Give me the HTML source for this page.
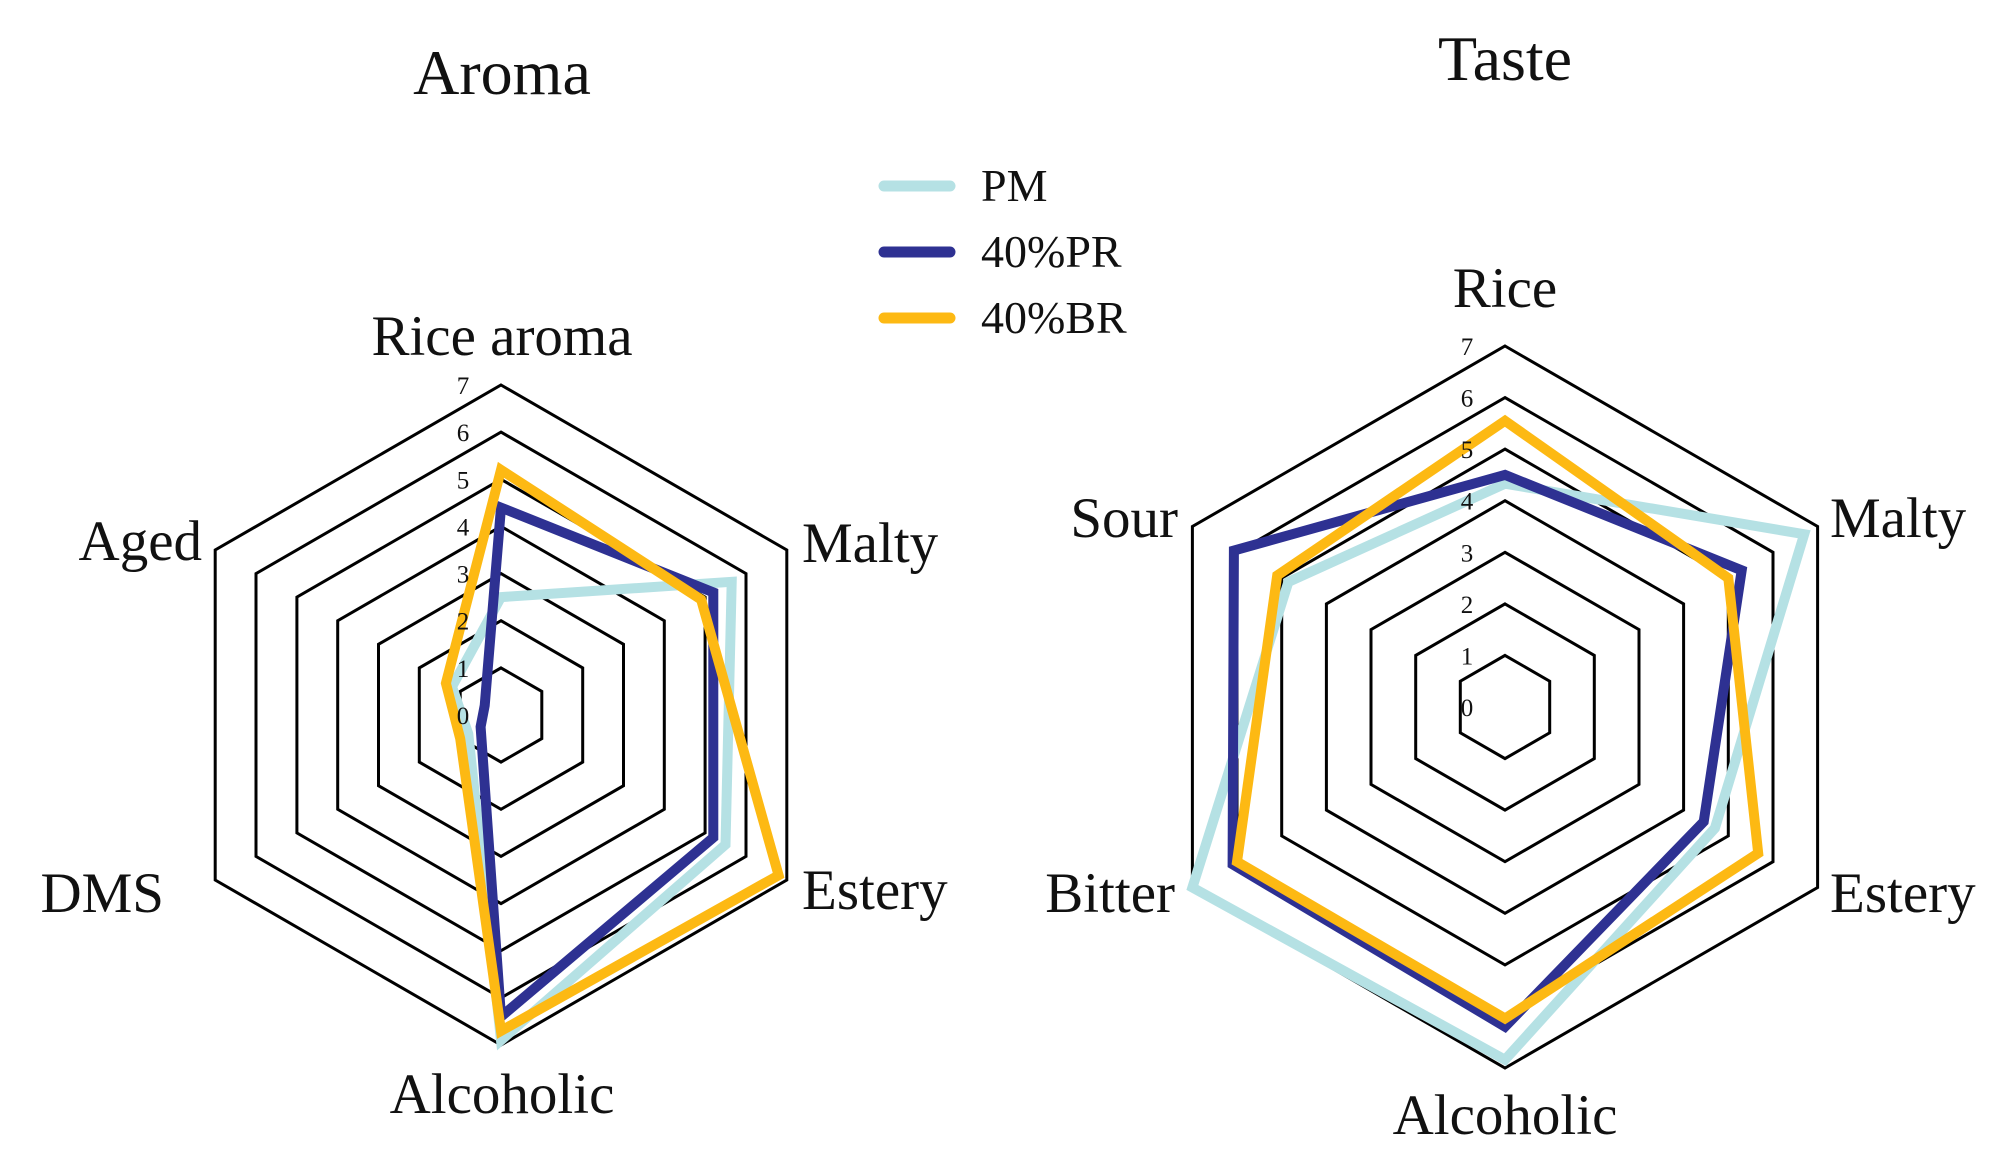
<!DOCTYPE html>
<html><head><meta charset="utf-8"><style>
html,body{margin:0;padding:0;background:#fff;}
svg{display:block;}
text{font-family:"Liberation Serif",serif;fill:#111;}
</style></head><body>
<svg id="s" width="2003" height="1174" viewBox="0 0 2003 1174" xmlns="http://www.w3.org/2000/svg">
<g id="grid" fill="none" stroke="#000" stroke-width="3"></g>
<g id="series" fill="none" stroke-linejoin="miter" stroke-width="10"></g>
<g font-size="25" id="ticks"></g>
<text x="502" y="94" font-size="64" text-anchor="middle">Aroma</text>
<text x="1505" y="80" font-size="64" text-anchor="middle">Taste</text>
<g font-size="57">
<text x="502" y="355" text-anchor="middle">Rice aroma</text>
<text x="802" y="562">Malty</text>
<text x="802" y="909">Estery</text>
<text x="502" y="1113" text-anchor="middle">Alcoholic</text>
<text x="164" y="912" text-anchor="end">DMS</text>
<text x="202" y="560" text-anchor="end">Aged</text>
<text x="1505" y="307" text-anchor="middle">Rice</text>
<text x="1830" y="537">Malty</text>
<text x="1830" y="912">Estery</text>
<text x="1505" y="1134" text-anchor="middle">Alcoholic</text>
<text x="1175" y="912" text-anchor="end">Bitter</text>
<text x="1178" y="537" text-anchor="end">Sour</text>
</g>
<g stroke-width="11" stroke-linecap="round">
<line x1="884" y1="186" x2="950" y2="186" stroke="#b5e1e4"/>
<line x1="884" y1="252" x2="950" y2="252" stroke="#2e3192"/>
<line x1="884" y1="318" x2="950" y2="318" stroke="#fdb913"/>
</g>
<g font-size="46">
<text x="981" y="201">PM</text>
<text x="981" y="267">40%PR</text>
<text x="981" y="333">40%BR</text>
</g>
</svg>
<script>
var NS="http://www.w3.org/2000/svg";
function pts(cx,cy,R,vals){return vals.map(function(v,i){var a=(-90+60*i)*Math.PI/180;var r=R*v/7;return (cx+r*Math.cos(a)).toFixed(1)+","+(cy+r*Math.sin(a)).toFixed(1);}).join(" ");}
function el(p,tag,attrs){var e=document.createElementNS(NS,tag);for(var k in attrs)e.setAttribute(k,attrs[k]);p.appendChild(e);return e;}
var charts=[
 {cx:501,cy:715,R:330,data:[
  ["#b5e1e4",[2.5,5.65,5.5,6.9,0.8,1.2]],
  ["#2e3192",[4.4,5.2,5.2,6.4,0.5,0.4]],
  ["#fdb913",[5.2,4.9,6.8,6.7,1.0,1.35]]]},
 {cx:1505,cy:707,R:361,data:[
  ["#b5e1e4",[4.33,6.7,4.7,6.84,7.0,4.85]],
  ["#2e3192",[4.5,5.3,4.45,6.2,6.1,6.07]],
  ["#fdb913",[5.55,5.0,5.67,6.04,6.0,5.1]]]}
];
var g=document.getElementById("grid"),s=document.getElementById("series"),t=document.getElementById("ticks");
charts.forEach(function(c){
 for(var k=1;k<=7;k++){el(g,"polygon",{points:pts(c.cx,c.cy,c.R,[k,k,k,k,k,k])});}
 c.data.forEach(function(d){el(s,"polygon",{points:pts(c.cx,c.cy,c.R,d[1]),stroke:d[0]});});
 for(var k=0;k<=7;k++){var tx=el(t,"text",{x:c.cx-38,y:c.cy-c.R*k/7+9,"text-anchor":"middle"});tx.textContent=String(k);}
});
</script>
</body></html>
